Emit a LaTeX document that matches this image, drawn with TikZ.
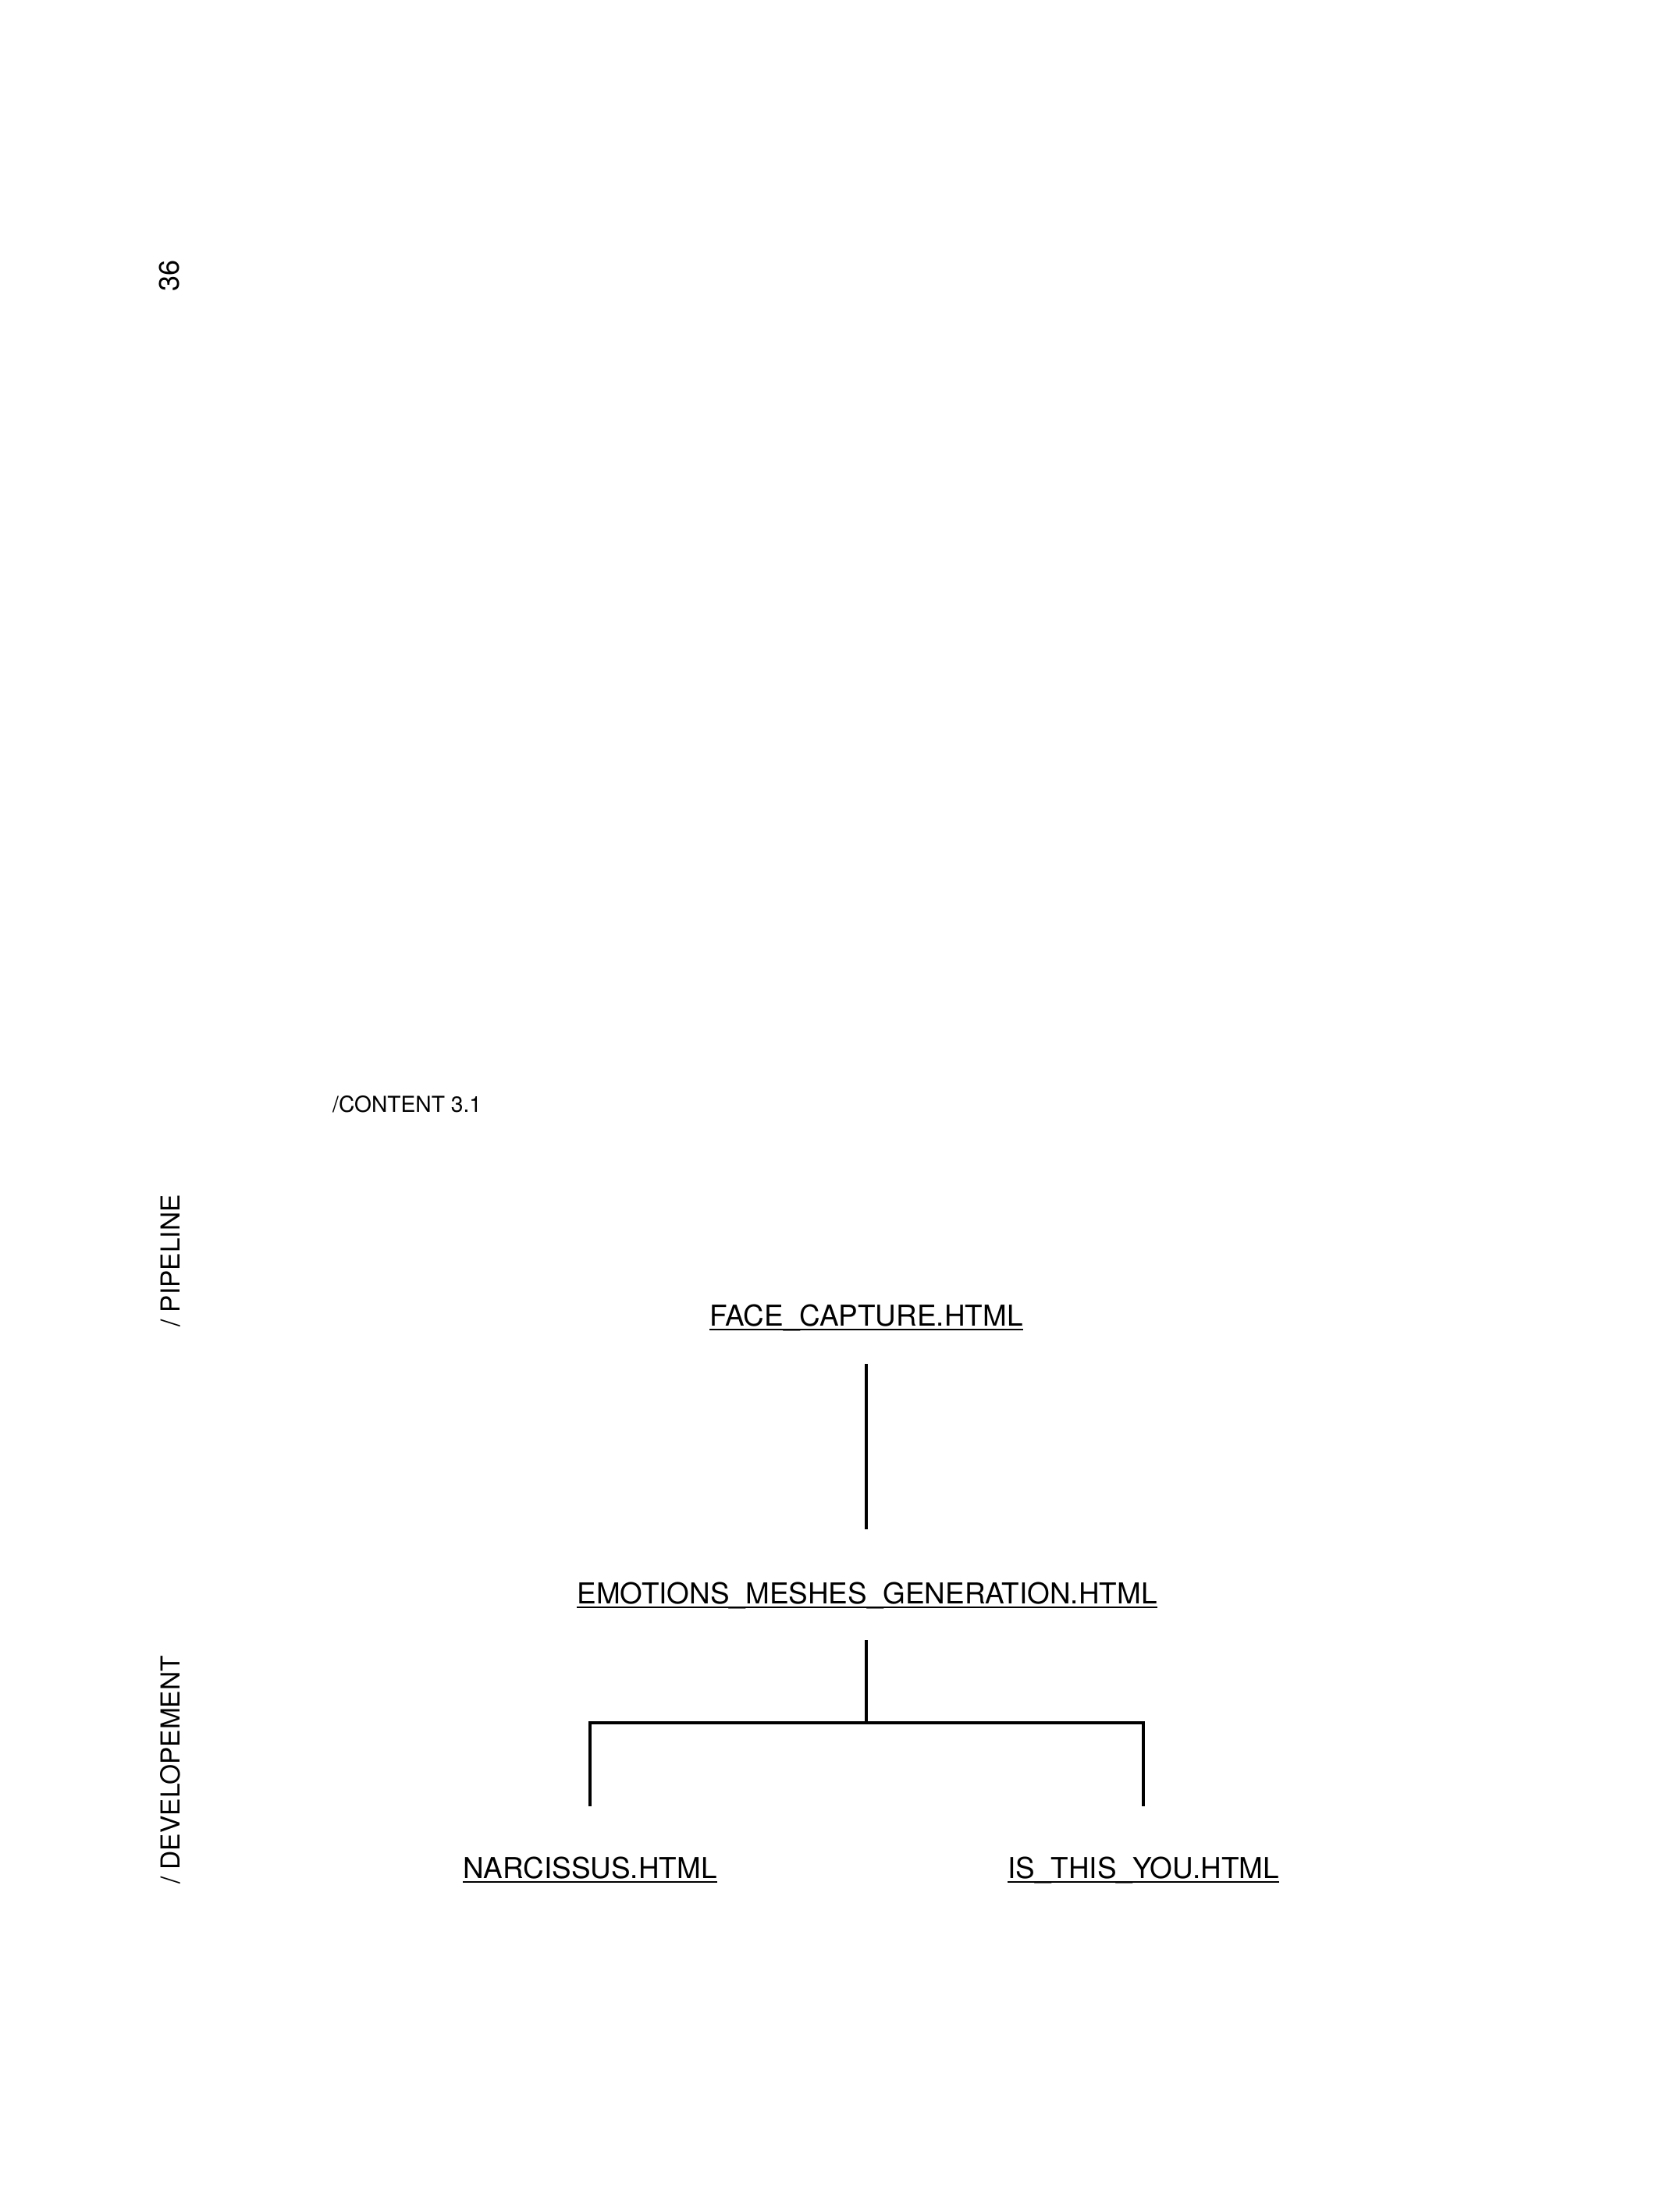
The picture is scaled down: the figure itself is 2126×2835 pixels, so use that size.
\documentclass[tikz,border=0pt]{standalone}
\usepackage{fontspec}
\setmainfont{TeX Gyre Heros}
\begin{document}
\begin{tikzpicture}[x=1pt,y=-1pt,
  lbl/.style={font=\fontsize{36.9}{40}\selectfont, inner sep=0pt, anchor=base, text height=26pt, text depth=6pt},
  side/.style={font=\fontsize{33.5}{36}\selectfont, inner sep=0pt, rotate=90, anchor=base west},
  small/.style={font=\fontsize{28.2}{30}\selectfont, inner sep=0pt, anchor=base west},
  conn/.style={line width=3.8pt, black},
  ul/.style={line width=2pt, black}]
\path[use as bounding box, fill=white] (0,0) rectangle (2126,2835);

% page number and side labels
\node[side, anchor=base, font=\fontsize{36}{40}\selectfont] (pg) at (229,353) {36};
\node[side] (pipe) at (230,1701) {/ PIPELINE};
\node[side] (dev) at (230,2415) {/ DEVELOPEMENT};
\node[small] (cont) at (426,1425) {/CONTENT 3.1};

% diagram labels
\node[lbl] (face) at (1110,1699) {FACE\_CAPTURE.HTML};
\node[lbl] (emo) at (1111,2055) {EMOTIONS\_MESHES\_GENERATION.HTML};
\node[lbl] (narc) at (756,2407) {NARCISSUS.HTML};
\node[lbl] (isyou) at (1465,2407) {IS\_THIS\_YOU.HTML};

\foreach \n in {face,emo,narc,isyou}
  \draw[ul] ([yshift=-5pt]\n.base west) -- ([yshift=-5pt]\n.base east);

% connectors
\coordinate (jn) at (1110,2208);
\draw[conn, shorten <=43pt, shorten >=69pt] (face.south) -- (face.south |- emo.north);
\draw[conn, shorten <=41pt] (jn |- emo.south) -- (jn);
\draw[conn, shorten <=66pt, shorten >=66pt] (narc.north) |- (jn) -| (isyou.north);
\end{tikzpicture}
\end{document}
